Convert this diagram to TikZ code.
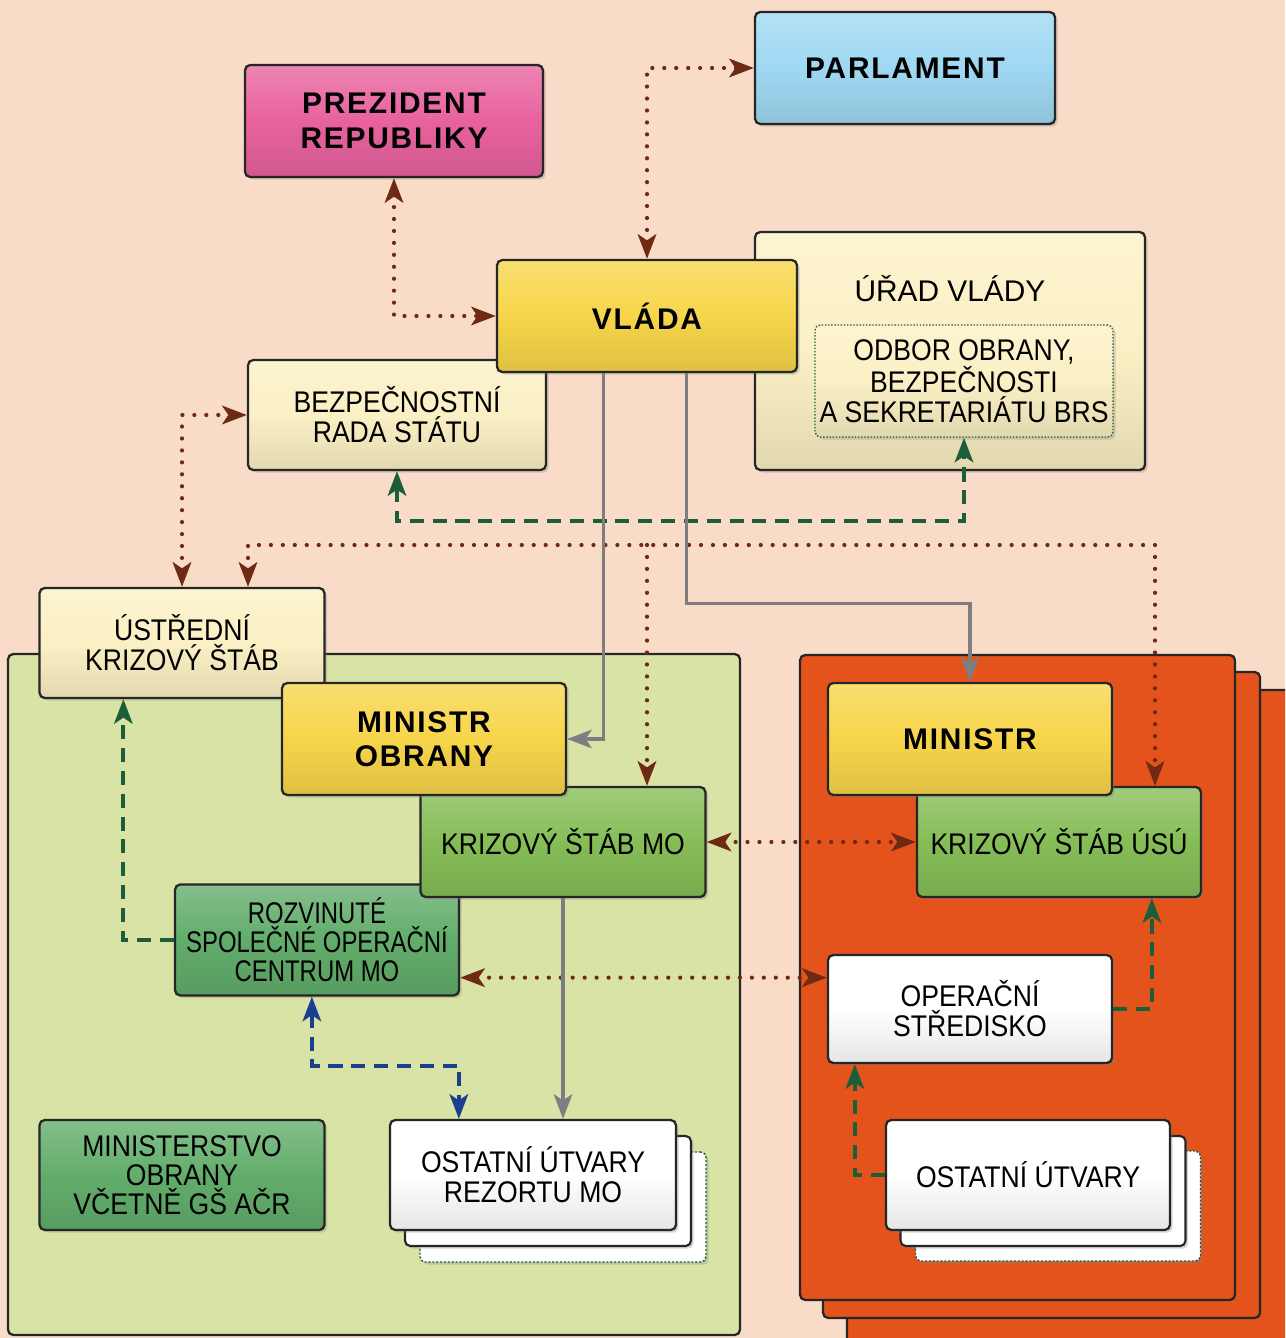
\documentclass[tikz,border=0pt]{standalone}
\usepackage{fontspec}
\setmainfont{Liberation Sans}
\newfontfamily\condfont[FakeStretch=0.89]{Liberation Sans}
\newfontfamily\narrowfont[FakeStretch=0.8]{Liberation Sans}
\newfontfamily\widefont[LetterSpace=6]{Liberation Sans}
\usetikzlibrary{arrows.meta,calc,shadows}

\definecolor{bgpeach}{HTML}{F9DCC8}
\definecolor{prezpink}{HTML}{E8629E}
\definecolor{parlblue}{HTML}{9FD8F2}
\definecolor{vladayellow}{HTML}{F7D54A}
\definecolor{creambox}{HTML}{FBF0C4}
\definecolor{panelgreen}{HTML}{D9E3A6}
\definecolor{staffgreen}{HTML}{86BD57}
\definecolor{deepgreen}{HTML}{62AD6B}
\definecolor{rsorange}{HTML}{E4531B}
\definecolor{linkbrown}{HTML}{6E2A12}
\definecolor{linkgreen}{HTML}{1D5E3A}
\definecolor{linkblue}{HTML}{1B3F8F}
\definecolor{linkgray}{HTML}{7E7E82}

\tikzset{
  orgbox/.style={draw=black!85, line width=1.3pt, rounded corners=3pt, inner sep=0pt, align=center,
    top color=#1!78!white, bottom color=#1!90!black, middle color=#1,
    drop shadow={opacity=0.3, shadow xshift=1.5pt, shadow yshift=-1.5pt}},
  headbox/.style={orgbox=#1, font=\widefont\bfseries\fontsize{17}{19.5}\selectfont},
  unitbox/.style={orgbox=#1, font=\condfont\fontsize{17}{17}\selectfont},
  stackbox/.style={draw=black!85, line width=1.2pt, rounded corners=3pt, fill=white,
    drop shadow={opacity=0.3, shadow xshift=1.5pt, shadow yshift=-1.5pt}},
  sz/.style 2 args={minimum width=#1*0.02cm, minimum height=#2*0.02cm},
  panel/.style={draw=black!85, line width=1.3pt, rounded corners=3pt},
  dotlink/.style={draw=linkbrown, line width=2.4pt, line cap=round, dash pattern=on 0pt off 6.8pt},
  dashgreen/.style={draw=linkgreen, line width=2.2pt, dash pattern=on 8pt off 5pt},
  dashblue/.style={draw=linkblue, line width=2.2pt, dash pattern=on 8pt off 5pt},
  solidgray/.style={draw=linkgray, line width=1.8pt},
}

\begin{document}
\begin{tikzpicture}[x=0.02cm, y=-0.02cm, >={Stealth[length=14pt,width=10.5pt,inset=3.5pt]}]
  % backdrop
  \fill[bgpeach] (0,0) rectangle (1285,1338);
  \useasboundingbox (0,0) rectangle (1285,1338);

  % panels
  \begin{scope}
    \clip (0,0) rectangle (1285,1338);
    \draw[panel, fill=panelgreen] (8,654) rectangle (740,1335);
    \draw[panel, fill=rsorange] (847,690) rectangle (1310,1360);
    \draw[panel, fill=rsorange] (823,672) rectangle (1260,1318);
    \draw[panel, fill=rsorange] (800,655) rectangle (1235,1300);
  \end{scope}

  % top level
  \node[headbox=prezpink, sz={298}{112}] (prez) at (394,121) {PREZIDENT\\REPUBLIKY};
  \node[headbox=parlblue, sz={300}{112}] (parl) at (905,68) {PARLAMENT};
  \node[orgbox=creambox, sz={390}{238}] (urad) at (950,351) {};
  \node[font=\fontsize{17}{17}\selectfont] (uradt) at (950,289) {ÚŘAD VLÁDY};
  \node[unitbox=creambox, sz={298}{112}, draw=linkgreen, line width=0.8pt, densely dotted]
    (odbor) at (964,381) {ODBOR OBRANY,\\BEZPEČNOSTI\\A SEKRETARIÁTU BRS};
  \node[unitbox=creambox, sz={298}{110}] (brs) at (397,415) {BEZPEČNOSTNÍ\\RADA STÁTU};
  \node[headbox=vladayellow, sz={300}{112}] (vlada) at (647,316) {VLÁDA};

  % defence side
  \node[unitbox=creambox, sz={285}{110}] (uks) at (182,643) {ÚSTŘEDNÍ\\KRIZOVÝ ŠTÁB};
  \node[unitbox=deepgreen, sz={284}{111}, font=\narrowfont\fontsize{17}{16.5}\selectfont] (rsoc) at (317,940) {ROZVINUTÉ\\SPOLEČNÉ OPERAČNÍ\\CENTRUM MO};
  \node[unitbox=staffgreen, sz={285}{110}] (ksmo) at (563,842) {KRIZOVÝ ŠTÁB MO};
  \node[headbox=vladayellow, sz={284}{112}] (mo) at (424,739) {MINISTR\\OBRANY};
  \node[unitbox=deepgreen, sz={285}{110}, font=\condfont\fontsize{17}{16.5}\selectfont] (mogs) at (182,1175) {MINISTERSTVO\\OBRANY\\VČETNĚ GŠ AČR};
  \node[stackbox, draw=linkgreen, densely dotted, line width=0.8pt, sz={286}{110}] (ostmoC) at (563,1207) {};
  \node[stackbox, sz={286}{110}] (ostmoB) at (548,1191) {};
  \node[unitbox=white, sz={286}{110}] (ostmo) at (533,1175) {OSTATNÍ ÚTVARY\\REZORTU MO};

  % other central authorities
  \node[unitbox=staffgreen, sz={284}{110}] (ksusu) at (1059,842) {KRIZOVÝ ŠTÁB ÚSÚ};
  \node[headbox=vladayellow, sz={284}{112}] (min) at (970,739) {MINISTR};
  \node[unitbox=white, sz={284}{108}] (os) at (970,1009) {OPERAČNÍ\\STŘEDISKO};
  \node[stackbox, draw=linkgreen, densely dotted, line width=0.8pt, sz={285}{110}] (ostuC) at (1058,1206) {};
  \node[stackbox, sz={285}{110}] (ostuB) at (1043,1191) {};
  \node[unitbox=white, sz={284}{110}] (ostu) at (1028,1175) {OSTATNÍ ÚTVARY};

  % brown dotted links
  \draw[dotlink, <->] (vlada.north) |- (parl.west);
  \draw[dotlink, <->] (prez.south) |- (vlada.west);
  \draw[dotlink, <->] (uks.north) |- (brs.west);
  \coordinate (distl) at (248,545);
  \coordinate (distr) at (1155,545);
  \draw[dotlink, <->] (distl |- uks.north) -- (distl) -- (distr) -- (distr |- ksusu.north);
  \draw[dotlink, ->] (distl -| vlada.south) -- (ksmo.north -| vlada.south);
  \draw[dotlink, <->] (ksmo.east) -- (ksusu.west);
  \draw[dotlink, <->] ($(rsoc.south east)+(0,-19)$) coordinate (rsocr) -- (rsocr -| os.west);

  % green dashed links
  \draw[dashgreen, <->] (brs.south) -- ++(0,50) -| (odbor.south);
  \draw[dashgreen, ->] (rsoc.west) -| ($(uks.south west)+(85,0)$);
  \draw[dashgreen, ->] (os.east) -| ($(ksusu.south west)+(236,0)$);
  \draw[dashgreen, ->] (ostu.west) -| ($(os.south west)+(28,0)$);

  % blue dashed link
  \draw[dashblue, <->] ($(rsoc.south west)+(138,0)$) -- ++(0,69) -| ($(ostmo.north west)+(70,0)$);

  % gray command lines
  \draw[solidgray, ->] ($(vlada.south west)+(108,0)$) |- (mo.east);
  \draw[solidgray, ->] ($(vlada.south west)+(191,0)$) -- ++(0,230) -| (min.north);
  \draw[solidgray, ->] (ksmo.south) -- (ksmo.south |- ostmo.north);
\end{tikzpicture}
\end{document}
